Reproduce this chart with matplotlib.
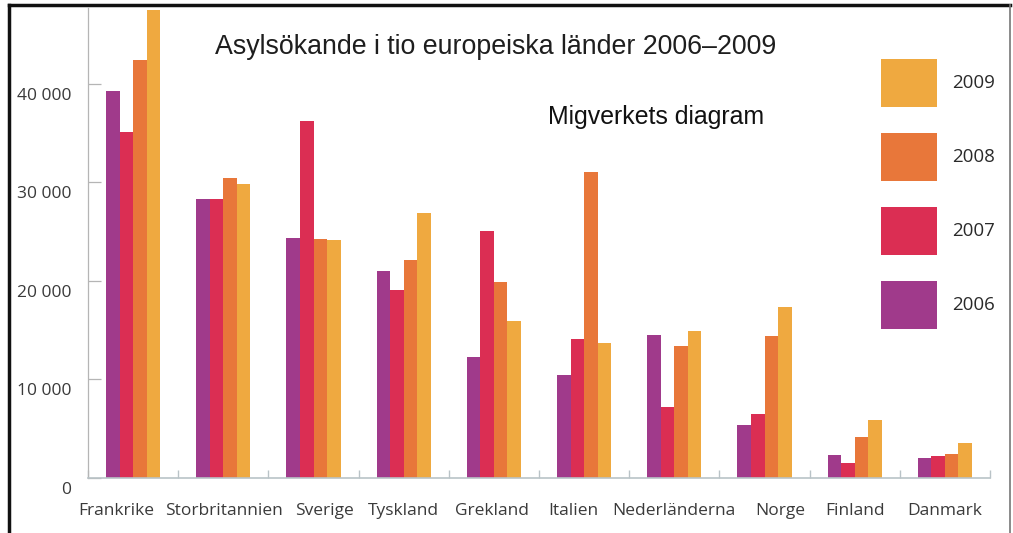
import numpy as np
import matplotlib
matplotlib.use("Agg")
import matplotlib.pyplot as plt
from matplotlib.lines import Line2D
from matplotlib.transforms import ScaledTranslation


# Data
countries = ['Frankrike', 'Storbritannien', 'Sverige', 'Tyskland', 'Grekland',
             'Italien', 'Nederländerna', 'Norge', 'Finland', 'Danmark']
years = ['2006', '2007', '2008', '2009']
v2006 = [39300, 28300, 24400, 21000, 12300, 10400, 14500, 5400, 2300, 2000]
v2007 = [35100, 28300, 36200, 19100, 25100, 14100, 7200, 6500, 1500, 2200]
v2008 = [42400, 30500, 24300, 22100, 19900, 31100, 13400, 14400, 4100, 2400]
v2009 = [47500, 29800, 24200, 26900, 15900, 13700, 14900, 17300, 5900, 3500]
ytick_vals = [0, 10000, 20000, 30000, 40000]
ytick_labels = ['0', '10 000', '20 000', '30 000', '40 000']

# the original labels are not all centred under their groups (pixels)
label_shift_px = [-17, 1, 11, 0, -2, -11, 0, 16, 0, 0]

colors = ['#a03a8b', '#db2e53', '#e8773a', '#efa940']
label_font = 'Open Sans'
label_color = '#3a3a3a'

fig = plt.figure(figsize=(10.13, 5.33), dpi=100)
ax = fig.add_axes([88 / 1013, 55.3 / 533, 902 / 1013, 469.4 / 533])

x = np.arange(len(countries))
width = 0.15
series = [v2006, v2007, v2008, v2009]
bars = []
for i, vals in enumerate(series):
    b = ax.bar(x + (i - 1.5) * width, vals, width, color=colors[i], linewidth=0)
    bars.append(b)

ax.set_xlim(-0.5, len(countries) - 0.5)
ax.set_ylim(0, 47700)

# spines
for side in ['top', 'right']:
    ax.spines[side].set_visible(False)
ax.spines['left'].set_color('#b5b5b5')
ax.spines['left'].set_linewidth(0.9)
ax.spines['bottom'].set_color('#b9c3c7')
ax.spines['bottom'].set_linewidth(1.2)

# x axis: labels at centres, small ticks between the groups
ax.set_xticks(x)
ax.set_xticklabels(countries, fontfamily=label_font, fontsize=12.5, color=label_color)
ax.tick_params(axis='x', which='major', length=0, pad=18.5)
ax.set_xticks(np.arange(-0.5, len(countries)), minor=True)
ax.tick_params(axis='x', which='minor', direction='in', length=6, color='#b9c3c7', width=1)
for lab, dx in zip(ax.get_xticklabels(), label_shift_px):
    lab.set_transform(lab.get_transform() + ScaledTranslation(dx / 100, 0, fig.dpi_scale_trans))

# y axis
ax.set_yticks(ytick_vals)
ax.set_yticklabels(ytick_labels, fontfamily=label_font, fontsize=12.5, color=label_color)
ax.tick_params(axis='y', direction='in', length=9, color='#b5b5b5', width=0.9, pad=12)
for lab in ax.get_yticklabels():
    lab.set_transform(lab.get_transform() + ScaledTranslation(0, -0.10, fig.dpi_scale_trans))

# titles
fig.text(496 / 1013, 1 - 47 / 533, 'Asylsökande i tio europeiska länder 2006–2009',
         fontfamily='Liberation Sans', fontsize=19.3, color='#1e1e1e',
         ha='center', va='center')
fig.text(656 / 1013, 1 - 117 / 533, 'Migverkets diagram',
         fontfamily='Liberation Sans', fontsize=17.9, color='#111111',
         ha='center', va='center')

# legend, newest year on top
leg = fig.legend(bars[::-1], years[::-1], loc='upper left',
                 bbox_to_anchor=(881 / 1013, 1 - 59 / 533),
                 frameon=False, borderpad=0, borderaxespad=0,
                 prop={'family': label_font, 'size': 13.5},
                 handlelength=3.0, handleheight=3.56, labelspacing=1.39,
                 handletextpad=0.8)
for t in leg.get_texts():
    t.set_color('#2a2a2a')

# picture frame
fig.add_artist(Line2D([9 / 1013, 9 / 1013], [0, 1 - 5 / 533], color='#111111', linewidth=2.5))
fig.add_artist(Line2D([9 / 1013, 1010 / 1013], [1 - 5 / 533, 1 - 5 / 533], color='#111111', linewidth=2.5))
fig.add_artist(Line2D([1010 / 1013, 1010 / 1013], [0, 1 - 5 / 533], color='#777777', linewidth=1.2))

fig.savefig('out.png', dpi=100)
